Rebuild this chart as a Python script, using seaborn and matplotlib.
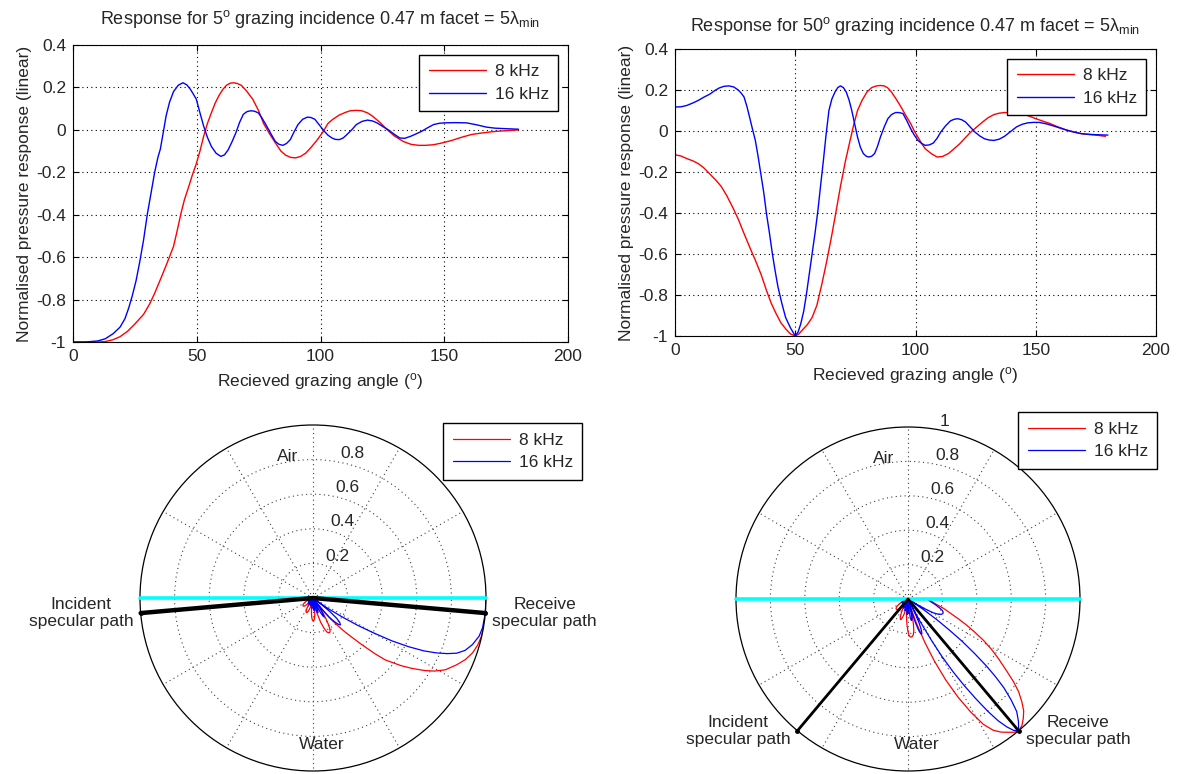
import numpy as np
import matplotlib
matplotlib.use("Agg")
import matplotlib.pyplot as plt
import seaborn as sns

# ---------------- data ----------------
freq_labels = ["8 kHz", "16 kHz"]
incidence_angles = [5, 50]          # grazing incidence, degrees

# 5 deg incidence, 8 kHz
ang_5_8k = [0, 5, 10, 13, 16, 19, 22, 25, 28.5, 31, 33, 35.5, 37.6, 40.6, 42, 43.7, 45, 46.7, 48.3,
            49.8, 51.3, 52.8, 54.3, 55.9, 57.4, 58.9, 60.5, 62, 63.5, 65, 66.5, 68, 70, 72.6, 75, 77,
            79.5, 81.7, 84, 86, 88, 90, 92, 94, 96, 98.5, 101, 103, 105, 107.6, 110, 112, 114.5,
            116.7, 119, 121, 124, 127, 130, 133.5, 136.5, 139.6, 142.5, 145.7, 149, 153, 157, 161,
            165, 168.5, 172, 175, 180]
resp_5_8k = [-1, -1, -1, -0.998, -0.99, -0.975, -0.95, -0.915, -0.87, -0.82, -0.77, -0.7, -0.64,
             -0.55, -0.48, -0.39, -0.33, -0.27, -0.21, -0.16, -0.1, -0.03, 0.03, 0.08, 0.125, 0.16,
             0.19, 0.21, 0.22, 0.222, 0.218, 0.21, 0.185, 0.145, 0.09, 0.03, -0.02, -0.06, -0.1,
             -0.12, -0.13, -0.132, -0.125, -0.11, -0.085, -0.05, -0.01, 0.03, 0.05, 0.07, 0.082,
             0.09, 0.092, 0.09, 0.08, 0.065, 0.035, 0.0, -0.03, -0.055, -0.068, -0.073, -0.073,
             -0.07, -0.062, -0.05, -0.035, -0.022, -0.015, -0.01, -0.006, -0.004, 0.0]
# 5 deg incidence, 16 kHz
ang_5_16k = [0, 5, 10, 13, 16.3, 19, 21, 22.5, 24, 25.5, 27, 28.5, 30, 31.5, 33, 34.3, 35.3, 36.5,
             37.6, 39, 40.6, 42.5, 44.4, 46, 47.5, 48.8, 49.8, 51.3, 52.8, 54.3, 55.9, 57.8, 59.7,
             61.2, 62.7, 64.3, 65.8, 67.3, 68.8, 70.3, 71.8, 73.3, 74.9, 76.4, 77.9, 79.8, 81.7,
             83.2, 84.8, 86.3, 87.8, 89.3, 90.9, 92.8, 94.7, 96.2, 97.7, 99.6, 101.5, 103, 104.6,
             106, 107.6, 109.2, 110.7, 112.6, 114.5, 116.8, 119, 121, 122.8, 125, 127.4, 129.7, 132,
             134, 136.5, 138.8, 141, 143.3, 145.7, 148, 150, 154.5, 159, 163, 167, 170.5, 174, 180]
resp_5_16k = [-1, -1, -0.995, -0.985, -0.96, -0.93, -0.89, -0.84, -0.78, -0.71, -0.62, -0.52, -0.4,
              -0.3, -0.2, -0.13, -0.09, -0.01, 0.065, 0.13, 0.18, 0.21, 0.222, 0.212, 0.19, 0.165,
              0.145, 0.08, 0.017, -0.035, -0.078, -0.11, -0.125, -0.118, -0.094, -0.055, -0.014,
              0.035, 0.073, 0.086, 0.09, 0.088, 0.08, 0.055, 0.025, -0.015, -0.054, -0.068, -0.073,
              -0.064, -0.046, -0.01, 0.025, 0.05, 0.06, 0.058, 0.05, 0.022, -0.006, -0.025, -0.038,
              -0.045, -0.046, -0.038, -0.022, 0.0, 0.025, 0.04, 0.046, 0.042, 0.033, 0.017, 0.0,
              -0.02, -0.038, -0.04, -0.03, -0.018, -0.006, 0.01, 0.025, 0.031, 0.033, 0.034, 0.033,
              0.024, 0.013, 0.008, 0.006, 0.003]
# 50 deg incidence, 8 kHz
ang_50_8k = [0, 2.5, 5, 7.5, 9.8, 12, 14.5, 17, 19.2, 21.5, 23.9, 26.3, 28.7, 31, 33.4, 35.8, 38.1,
             40, 42, 44, 46, 48, 50, 51.5, 53, 55, 57, 59, 61, 63, 65, 67, 68.8, 70.8, 72.8, 74.3,
             75.9, 77.8, 79.8, 81.8, 83.8, 85.4, 87, 88.5, 90, 92, 94, 96, 98, 99.5, 101, 102.5, 104,
             106.5, 109, 111.3, 113.7, 116, 118.4, 120.7, 123, 125.5, 127.9, 130.2, 132.6, 134.8,
             137, 140.3, 143.6, 147, 150, 153, 156, 159, 162.5, 166, 169, 172, 175, 179]
resp_50_8k = [-0.116, -0.122, -0.135, -0.146, -0.16, -0.18, -0.21, -0.24, -0.27, -0.315, -0.37,
              -0.43, -0.5, -0.565, -0.63, -0.7, -0.78, -0.84, -0.89, -0.935, -0.965, -0.99, -1,
              -0.99, -0.97, -0.945, -0.91, -0.85, -0.75, -0.64, -0.52, -0.39, -0.27, -0.15, -0.046,
              0.03, 0.1, 0.15, 0.19, 0.212, 0.22, 0.222, 0.22, 0.21, 0.19, 0.155, 0.117, 0.075,
              0.036, 0.0, -0.03, -0.06, -0.086, -0.11, -0.127, -0.124, -0.11, -0.087, -0.062,
              -0.033, -0.005, 0.02, 0.044, 0.065, 0.08, 0.087, 0.09, 0.09, 0.085, 0.074, 0.06,
              0.048, 0.036, 0.021, 0.006, -0.005, -0.013, -0.017, -0.02, -0.026]
# 50 deg incidence, 16 kHz
ang_50_16k = [0, 2.5, 5, 7.5, 9.8, 12, 14.5, 16.5, 18.4, 20.4, 22.4, 24.4, 26.3, 27.5, 28.7, 29.9,
              31, 32.2, 33.4, 34.5, 35.7, 36.9, 38, 39.3, 40.5, 41.6, 42.8, 44.4, 46, 48, 50, 51.2,
              52.3, 53.5, 54.6, 55.8, 57, 58.2, 59.4, 60.5, 61.7, 62.8, 64, 65.2, 66.5, 67.7, 68.8,
              70, 71.2, 72.4, 73.5, 74.7, 75.9, 77.1, 78.3, 79.5, 80.6, 81.8, 83, 84.2, 85.4, 87,
              88.5, 90, 91.7, 93.2, 94.8, 96.4, 98, 99.5, 101, 102.5, 104, 105.7, 107.4, 109, 110.5,
              112.5, 114.5, 116, 117.6, 119.2, 120.8, 122.7, 124.7, 126.7, 128.7, 130.6, 132.6,
              134.8, 137, 139.5, 142, 144.4, 146.8, 149, 151.5, 154.7, 157.8, 161, 164, 166.5, 169,
              172, 175, 180]
resp_50_16k = [0.117, 0.118, 0.125, 0.137, 0.15, 0.165, 0.18, 0.197, 0.21, 0.218, 0.22, 0.215, 0.2,
               0.185, 0.166, 0.12, 0.068, 0.01, -0.046, -0.12, -0.21, -0.3, -0.4, -0.5, -0.6, -0.68,
               -0.76, -0.84, -0.91, -0.96, -1, -0.98, -0.94, -0.88, -0.8, -0.7, -0.6, -0.5, -0.39,
               -0.27, -0.144, -0.02, 0.1, 0.155, 0.19, 0.212, 0.22, 0.212, 0.19, 0.15, 0.1, 0.035,
               -0.03, -0.08, -0.11, -0.123, -0.127, -0.123, -0.11, -0.075, -0.03, 0.02, 0.06, 0.08,
               0.09, 0.09, 0.085, 0.05, 0.011, -0.02, -0.046, -0.06, -0.07, -0.068, -0.059, -0.035,
               -0.005, 0.025, 0.049, 0.057, 0.06, 0.055, 0.044, 0.02, -0.005, -0.024, -0.038,
               -0.044, -0.046, -0.04, -0.026, -0.003, 0.02, 0.033, 0.04, 0.042, 0.042, 0.034, 0.023,
               0.011, 0.0, -0.007, -0.013, -0.016, -0.018, -0.02]

x_ticks = [0, 50, 100, 150, 200]
y_ticks = [-1, -0.8, -0.6, -0.4, -0.2, 0, 0.2, 0.4]
y_ticklabels = ["-1", "-0.8", "-0.6", "-0.4", "-0.2", "0", "0.2", "0.4"]
radial_ticks = [0.2, 0.4, 0.6, 0.8]
colors = ["#ff0000", "#0000ff"]

# ---------------- style ----------------
sns.set_style("white")
plt.rcParams["font.family"] = ["Liberation Sans", "DejaVu Sans"]
plt.rcParams["mathtext.fontset"] = "custom"
plt.rcParams["mathtext.rm"] = "Liberation Sans"
plt.rcParams["mathtext.it"] = "Liberation Sans:italic"
FS = 12.5
plt.rcParams["font.size"] = FS

W, H = 1181, 774
fig = plt.figure(figsize=(W / 100, H / 100), dpi=100)


def fig_rect(x0, y0, x1, y1):
    return [x0 / W, 1 - y1 / H, (x1 - x0) / W, (y1 - y0) / H]


def legend_kw():
    return dict(frameon=True, fancybox=False, framealpha=1, edgecolor="k", handlelength=3.3,
                borderpad=0.55, labelspacing=0.42, fontsize=FS, handletextpad=0.5)


def cart_panel(rect, inc, series, title_pad):
    ax = fig.add_axes(rect)
    for (a, r), c, lab in zip(series, colors, freq_labels):
        sns.lineplot(x=a, y=r, ax=ax, color=c, lw=1.0, label=lab, sort=False, estimator=None)
    ax.set_xlim(0, 200)
    ax.set_ylim(-1, 0.4)
    ax.set_xticks(x_ticks)
    ax.set_xticklabels([str(t) for t in x_ticks])
    ax.set_yticks(y_ticks)
    ax.set_yticklabels(y_ticklabels)
    ax.grid(True, ls=(0, (1, 3)), color="k", lw=0.8)
    for s in ax.spines.values():
        s.set_color("k")
        s.set_linewidth(0.8)
    ax.tick_params(direction="in", length=4, width=0.8, top=True, right=True,
                   bottom=True, left=True, labelsize=FS, pad=5, color="k")
    ax.set_xlabel("Recieved grazing angle ($^{\\rm o}$)", fontsize=FS, labelpad=5)
    ax.set_ylabel("Normalised pressure response (linear)", fontsize=FS, labelpad=3)
    ax.set_title("Response for %d$^{\\rm o}$ grazing incidence 0.47 m facet = 5\u03bb$_{\\rm min}$" % inc,
                 fontsize=13, pad=title_pad)
    leg = ax.legend(loc="upper right", borderaxespad=0.55, **legend_kw())
    leg.get_frame().set_linewidth(1.0)
    return ax


cart_panel(fig_rect(73, 45, 568, 342), incidence_angles[0],
           [(ang_5_8k, resp_5_8k), (ang_5_16k, resp_5_16k)], 15)
cart_panel(fig_rect(675, 49, 1156, 336), incidence_angles[1],
           [(ang_50_8k, resp_50_8k), (ang_50_16k, resp_50_16k)], 13)


def polar_panel(cx, cy, rad, inc, series, path_lw, leg_xy, show_one):
    ax = fig.add_axes(fig_rect(cx - rad, cy - rad, cx + rad, cy + rad), projection="polar")
    for (a, r), c, lab in zip(series, colors, freq_labels):
        th = -np.deg2rad(np.asarray(a, float))
        mag = np.abs(np.asarray(r, float))
        sns.lineplot(x=th, y=mag, ax=ax, color=c, lw=0.9, label=lab, sort=False, estimator=None)
    # water surface
    ax.plot([np.pi, 0, 0], [1, 0, 1], color="#00ffff", lw=2.6, clip_on=False, zorder=3)
    # specular paths
    inc_r = np.deg2rad(inc)
    ax.plot([np.pi + inc_r, 0, -inc_r], [1, 0, 1], color="k", lw=path_lw, clip_on=False,
            zorder=4, marker=".", markersize=5, markevery=[0, 2])
    ax.set_ylim(0, 1)
    ax.set_thetagrids(np.arange(0, 360, 30), labels=[])
    ax.set_rgrids(radial_ticks, labels=[])
    ax.grid(True, ls=(0, (1, 3)), color="0.25", lw=0.8)
    ax.spines["polar"].set_color("k")
    ax.spines["polar"].set_linewidth(0.9)
    ax.set_xlabel("")
    ax.set_ylabel("")
    labs = radial_ticks + ([1] if show_one else [])
    for v in labs:
        txt = "1" if v == 1 else "%.1f" % v
        ax.annotate(txt, xy=(np.deg2rad(82), v), xytext=(8, 0), textcoords="offset pixels",
                    ha="left", va="bottom", fontsize=FS, annotation_clip=False)
    ax.text(np.deg2rad(100), 0.83, "Air", ha="center", va="center", fontsize=FS)
    ax.text(np.deg2rad(273.5), 0.85, "Water", ha="center", va="center", fontsize=FS)
    ax.annotate("Incident\nspecular path", xy=(np.pi + inc_r, 1), xytext=(-7, 0),
                textcoords="offset pixels", ha="right", va="center", multialignment="center",
                fontsize=FS, annotation_clip=False, linespacing=1.2)
    ax.annotate("Receive\nspecular path", xy=(-inc_r, 1), xytext=(7, 0),
                textcoords="offset pixels", ha="left", va="center", multialignment="center",
                fontsize=FS, annotation_clip=False, linespacing=1.2)
    leg = ax.legend(loc="upper left", bbox_to_anchor=(leg_xy[0] / W, 1 - leg_xy[1] / H),
                    bbox_transform=fig.transFigure, borderaxespad=0.0, **legend_kw())
    leg.get_frame().set_linewidth(1.0)
    return ax


polar_panel(313, 598, 173, incidence_angles[0],
            [(ang_5_8k, resp_5_8k), (ang_5_16k, resp_5_16k)], 3.2, (443, 423), False)
polar_panel(908, 599, 172, incidence_angles[1],
            [(ang_50_8k, resp_50_8k), (ang_50_16k, resp_50_16k)], 2.0, (1018, 412), True)

fig.savefig("out.png", dpi=100)
